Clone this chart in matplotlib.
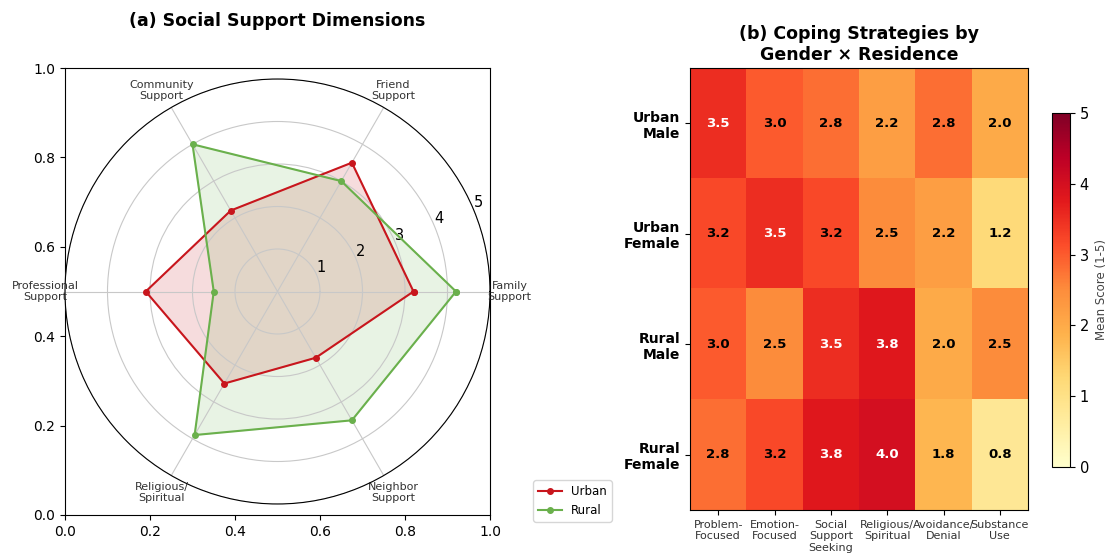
import matplotlib
matplotlib.use("Agg")
import matplotlib.pyplot as plt
import numpy as np


SUPPORT_LABELS = [
    "Family\nSupport",
    "Friend\nSupport",
    "Community\nSupport",
    "Professional\nSupport",
    "Religious/\nSpiritual",
    "Neighbor\nSupport",
]
URBAN_SUPPORT = [3.2, 3.5, 2.2, 3.1, 2.5, 1.8]
RURAL_SUPPORT = [4.2, 3.0, 4.0, 1.5, 3.9, 3.5]

GROUPS = ["Urban\nMale", "Urban\nFemale", "Rural\nMale", "Rural\nFemale"]
STRATEGIES = [
    "Problem-\nFocused",
    "Emotion-\nFocused",
    "Social\nSupport\nSeeking",
    "Religious/\nSpiritual",
    "Avoidance/\nDenial",
    "Substance\nUse",
]
COPING = [
    [3.5, 3.0, 2.8, 2.2, 2.8, 2.0],
    [3.2, 3.5, 3.2, 2.5, 2.2, 1.2],
    [3.0, 2.5, 3.5, 3.8, 2.0, 2.5],
    [2.8, 3.2, 3.8, 4.0, 1.8, 0.8],
]

URBAN_COLOR = "#c8161d"
RURAL_COLOR = "#6ab04c"

W, H = 1108, 558


def px_rect(x0, y0, x1, y1):
    # pixel box (top-left origin) -> figure fraction rect
    return [x0 / W, 1 - y1 / H, (x1 - x0) / W, (y1 - y0) / H]


fig = plt.figure(figsize=(W / 100, H / 100), dpi=100)

# --- (a) radar, drawn on top of a plain cartesian axes -------------------
rect_a = px_rect(65, 68, 490, 515)
ax_bg = fig.add_axes(rect_a)
ax_bg.tick_params(labelsize=10)
ax_bg.set_title("(a) Social Support Dimensions", fontsize=12.5, fontweight="bold", pad=30)

ax = fig.add_axes(rect_a, polar=True)
n = len(SUPPORT_LABELS)
angles = np.linspace(0, 2 * np.pi, n, endpoint=False).tolist()
angles += angles[:1]

urban = URBAN_SUPPORT + URBAN_SUPPORT[:1]
rural = RURAL_SUPPORT + RURAL_SUPPORT[:1]

ax.plot(angles, urban, "o-", color=URBAN_COLOR, linewidth=1.5, markersize=4, label="Urban")
ax.fill(angles, urban, color=URBAN_COLOR, alpha=0.15)
ax.plot(angles, rural, "o-", color=RURAL_COLOR, linewidth=1.5, markersize=4, label="Rural")
ax.fill(angles, rural, color=RURAL_COLOR, alpha=0.15)

ax.set_xticks(angles[:-1])
ax.set_xticklabels(SUPPORT_LABELS, fontsize=8, color="#333333")
ax.set_ylim(0, 5)
ax.set_yticks([1, 2, 3, 4, 5])
ax.set_yticklabels(["1", "2", "3", "4", "5"], fontsize=10.5)
ax.grid(color="#c8c8c8", linewidth=0.8)
ax.legend(loc="upper right", bbox_to_anchor=(1.3, 0.07), fontsize=8.5)

# --- (b) heatmap ---------------------------------------------------------
ax2 = fig.add_axes(px_rect(690, 68, 1028, 510))
data = np.array(COPING)
im = ax2.imshow(data, cmap="YlOrRd", vmin=0, vmax=5, aspect="auto")

ax2.set_xticks(range(len(STRATEGIES)))
ax2.set_xticklabels(STRATEGIES, fontsize=8, color="#333333")
ax2.set_yticks(range(len(GROUPS)))
ax2.set_yticklabels(GROUPS, fontsize=10, fontweight="bold")
ax2.set_title("(b) Coping Strategies by\nGender \u00d7 Residence", fontsize=12.5, fontweight="bold")

for i in range(data.shape[0]):
    for j in range(data.shape[1]):
        val = data[i, j]
        ax2.text(j, i, f"{val:.1f}", ha="center", va="center", fontsize=9.5,
                 fontweight="bold", color="white" if val > 3.3 else "black")

cax = fig.add_axes(px_rect(1052, 113, 1070, 467))
cbar = fig.colorbar(im, cax=cax)
cbar.ax.tick_params(labelsize=10.5)
cbar.set_label("Mean Score (1-5)", fontsize=8.5, color="#444444")

fig.savefig("out.png", dpi=100)
